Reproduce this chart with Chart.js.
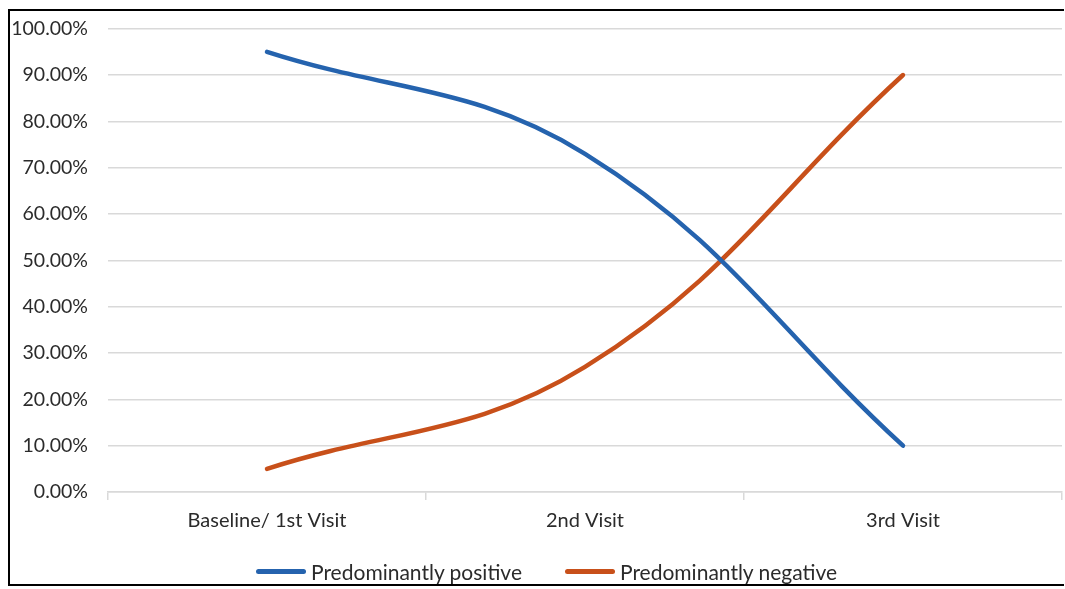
<!DOCTYPE html>
<html>
<head>
<meta charset="utf-8">
<script src="https://cdn.jsdelivr.net/npm/chart.js@4"></script>
<style>
  html, body { margin: 0; padding: 0; background: #fff; }
  #wrap { position: relative; width: 1065px; height: 589px; overflow: hidden; }
  #frame { position: absolute; left: 8px; top: 9px; width: 1056px; height: 577px; border: 2px solid #000; border-right: none; box-sizing: border-box; }
  canvas { position: absolute; left: 0; top: -3px; }
  #legend { position: absolute; left: 256px; top: 559px; display: flex; align-items: center; font-family: Lato, "Liberation Sans", sans-serif; font-size: 21px; color: #2b2b2b; }
  .item { display: flex; align-items: center; margin-right: 43px; }
  .swatch { width: 50px; height: 5px; border-radius: 3px; margin-right: 5px; }
</style>
</head>
<body>
<div id="wrap">
  <div id="frame"></div>
  <canvas id="c" width="1065" height="589"></canvas>
  <div id="legend"></div>
</div>
<script>
// ── data ────────────────────────────────────────────────────────
const visits = ["Baseline/ 1st Visit", "2nd Visit", "3rd Visit"];
const positive = [95, 73, 10];
const negative = [5, 27, 90];
const yTicks = [0, 10, 20, 30, 40, 50, 60, 70, 80, 90, 100];

const FONT = "Lato, 'Liberation Sans', sans-serif";
const TXT = "#2b2b2b";
const GRID = "#d9d9d9";

const chart = new Chart(document.getElementById("c"), {
  type: "line",
  data: {
    labels: visits,
    datasets: [
      {
        label: "Predominantly positive",
        data: positive,
        borderColor: "#2563ae",
        backgroundColor: "#2563ae",
        borderWidth: 4.5,
        pointRadius: 0,
        borderCapStyle: "round",
        tension: 0.4,
      },
      {
        label: "Predominantly negative",
        data: negative,
        borderColor: "#c8501a",
        backgroundColor: "#c8501a",
        borderWidth: 4.5,
        pointRadius: 0,
        borderCapStyle: "round",
        tension: 0.4,
      },
    ],
  },
  options: {
    responsive: false,
    animation: false,
    layout: { padding: { top: 25, right: 3, bottom: 0, left: 0 } },
    plugins: {
      tooltip: { enabled: false },
      legend: { display: false },
    },
    scales: {
      x: {
        offset: true,
        grid: { drawOnChartArea: false, drawTicks: true, tickLength: 8, color: GRID, lineWidth: 1.5, offset: true },
        border: { color: GRID, width: 1.5 },
        ticks: { color: TXT, font: { family: FONT, size: 20 }, padding: 9 },
        afterFit: (s) => { s.height = 94; },
      },
      y: {
        min: 0,
        max: 100,
        afterBuildTicks: (s) => { s.ticks = yTicks.map((v) => ({ value: v })); },
        grid: { color: GRID, lineWidth: 1.5, drawTicks: false },
        border: { display: false },
        ticks: {
          color: TXT,
          font: { family: FONT, size: 19.5 },
          padding: 20,
          callback: (v) => v.toFixed(2) + "%",
        },
        afterFit: (s) => { s.width = 108; },
      },
    },
  },
});

// ── legend built from the datasets ──────────────────────────────
document.getElementById("legend").innerHTML = chart.data.datasets
  .map((d) => `<div class="item"><span class="swatch" style="background:${d.borderColor}"></span>${d.label}</div>`)
  .join("");
</script>
</body>
</html>
